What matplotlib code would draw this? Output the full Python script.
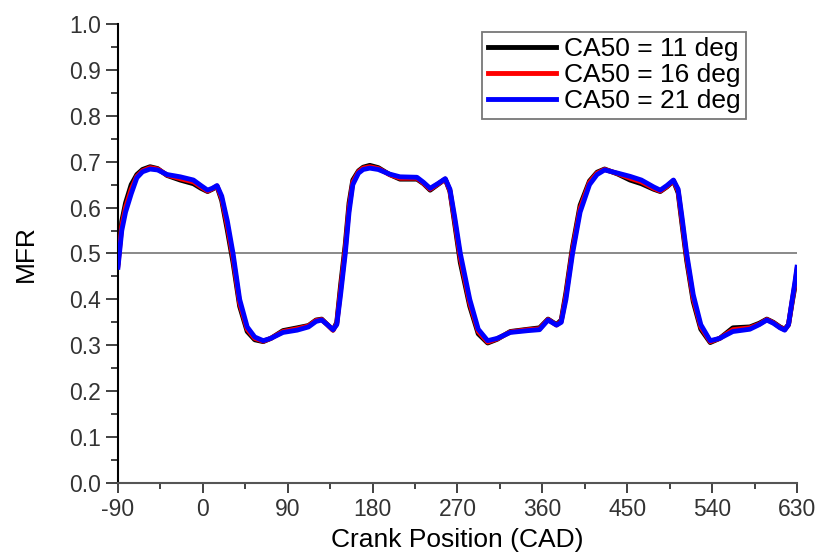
import numpy as np
import matplotlib.pyplot as plt
from matplotlib.ticker import MultipleLocator

plt.rcParams['font.family'] = ['Liberation Sans', 'DejaVu Sans']
plt.rcParams['axes.unicode_minus'] = False

# crank angle positions (CAD)
cad = [-90, -86, -82, -76, -70, -64, -56, -48, -38, -24, -10, -2, 5, 10, 15, 20, 26, 32, 39, 47,
       55, 64, 72, 85, 100, 112, 120, 126, 132, 138, 142, 146, 151, 155, 159, 165, 170, 177, 186, 198,
       209, 227, 234, 241, 249, 257, 262, 267, 273, 283, 292, 302, 312, 326, 345, 357, 366, 375, 380, 385,
       392, 400, 410, 418, 426, 440, 453, 465, 478, 485, 492, 499, 504, 508, 513, 520, 528, 538, 548, 562,
       580, 590, 598, 605, 612, 617, 621, 625, 628, 630]

# MFR for CA50 = 11 deg
mfr_11 = [0.48, 0.57, 0.61, 0.65, 0.672, 0.683, 0.689, 0.685, 0.67, 0.66, 0.652, 0.642, 0.635, 0.64, 0.646, 0.615, 0.55, 0.48, 0.385, 0.33,
          0.312, 0.308, 0.315, 0.332, 0.338, 0.343, 0.355, 0.357, 0.345, 0.333, 0.35, 0.43, 0.52, 0.61, 0.66, 0.68, 0.688, 0.692, 0.687, 0.672,
          0.662, 0.662, 0.652, 0.638, 0.65, 0.662, 0.635, 0.565, 0.48, 0.385, 0.325, 0.305, 0.313, 0.33, 0.335, 0.338, 0.357, 0.345, 0.355, 0.415,
          0.515, 0.605, 0.658, 0.677, 0.684, 0.673, 0.66, 0.652, 0.64, 0.635, 0.645, 0.658, 0.632, 0.565, 0.485, 0.395, 0.335, 0.306, 0.315, 0.338,
          0.34, 0.348, 0.357, 0.35, 0.34, 0.335, 0.345, 0.395, 0.43, 0.46]

# MFR for CA50 = 16 deg
mfr_16 = [0.475, 0.56, 0.60, 0.64, 0.668, 0.68, 0.687, 0.684, 0.671, 0.663, 0.656, 0.645, 0.636, 0.641, 0.647, 0.62, 0.56, 0.49, 0.392, 0.335,
          0.315, 0.309, 0.315, 0.33, 0.336, 0.342, 0.354, 0.356, 0.345, 0.333, 0.347, 0.42, 0.51, 0.60, 0.655, 0.678, 0.686, 0.689, 0.685, 0.672,
          0.664, 0.664, 0.653, 0.64, 0.651, 0.662, 0.637, 0.572, 0.49, 0.392, 0.33, 0.307, 0.314, 0.329, 0.334, 0.336, 0.356, 0.344, 0.352, 0.408,
          0.508, 0.598, 0.655, 0.675, 0.683, 0.674, 0.664, 0.656, 0.642, 0.636, 0.646, 0.659, 0.636, 0.572, 0.492, 0.402, 0.34, 0.308, 0.315, 0.334,
          0.338, 0.346, 0.356, 0.349, 0.339, 0.334, 0.345, 0.398, 0.435, 0.465]

# MFR for CA50 = 21 deg
mfr_21 = [0.47, 0.55, 0.59, 0.63, 0.665, 0.678, 0.684, 0.682, 0.672, 0.667, 0.66, 0.648, 0.638, 0.642, 0.648, 0.625, 0.57, 0.50, 0.40, 0.34,
          0.318, 0.31, 0.315, 0.328, 0.333, 0.34, 0.352, 0.355, 0.345, 0.334, 0.345, 0.41, 0.50, 0.59, 0.65, 0.675, 0.683, 0.686, 0.683, 0.673,
          0.667, 0.666, 0.655, 0.642, 0.652, 0.663, 0.64, 0.58, 0.50, 0.40, 0.335, 0.31, 0.315, 0.328, 0.332, 0.334, 0.355, 0.344, 0.35, 0.40,
          0.50, 0.59, 0.65, 0.672, 0.682, 0.675, 0.668, 0.66, 0.645, 0.638, 0.648, 0.66, 0.64, 0.58, 0.50, 0.41, 0.345, 0.31, 0.315, 0.33,
          0.335, 0.345, 0.355, 0.348, 0.338, 0.333, 0.345, 0.40, 0.44, 0.47]

labels = ["CA50 = 11 deg", "CA50 = 16 deg", "CA50 = 21 deg"]

fig = plt.figure(figsize=(8.16, 5.54), dpi=100)
ax = fig.add_axes([0.1446, 0.1282, 0.8321, 0.8285])

ax.axhline(0.5, color='#808080', lw=1.3, zorder=1)
ax.plot(cad, mfr_11, color='black', lw=3.5, label=labels[0], zorder=2)
ax.plot(cad, mfr_16, color='red', lw=3.5, label=labels[1], zorder=3)
ax.plot(cad, mfr_21, color='blue', lw=3.5, label=labels[2], zorder=4)

ax.set_xlim(-90, 630)
ax.set_ylim(0, 1.0)
ax.xaxis.set_major_locator(MultipleLocator(90))
ax.xaxis.set_minor_locator(MultipleLocator(45))
ax.yaxis.set_major_locator(MultipleLocator(0.1))
ax.yaxis.set_minor_locator(MultipleLocator(0.05))
ax.yaxis.set_major_formatter(plt.FormatStrFormatter('%.1f'))

ax.spines['top'].set_visible(False)
ax.spines['right'].set_visible(False)
for s in ['left', 'bottom']:
    ax.spines[s].set_linewidth(1.5)
ax.spines['bottom'].set_color('#555555')

ax.tick_params(which='major', direction='out', length=7, width=1.3, labelsize=16.5, colors='#333333')
ax.tick_params(which='minor', direction='out', length=4, width=1.3, colors='#333333')
ax.tick_params(axis='y', which='major', length=9)
ax.tick_params(axis='y', which='minor', length=5)

ax.set_xlabel("Crank Position (CAD)", fontsize=19, labelpad=5)
ax.set_ylabel("MFR", fontsize=19, labelpad=22)

leg = ax.legend(loc='upper right', bbox_to_anchor=(0.925, 0.983), borderaxespad=0,
                fontsize=19, frameon=True, fancybox=False, edgecolor='#555555',
                handlelength=2.6, handletextpad=0.3, labelspacing=0.08, borderpad=0.2)
leg.get_frame().set_linewidth(1.3)
for line in leg.get_lines():
    line.set_linewidth(3.5)

fig.savefig('out.png', dpi=100)
